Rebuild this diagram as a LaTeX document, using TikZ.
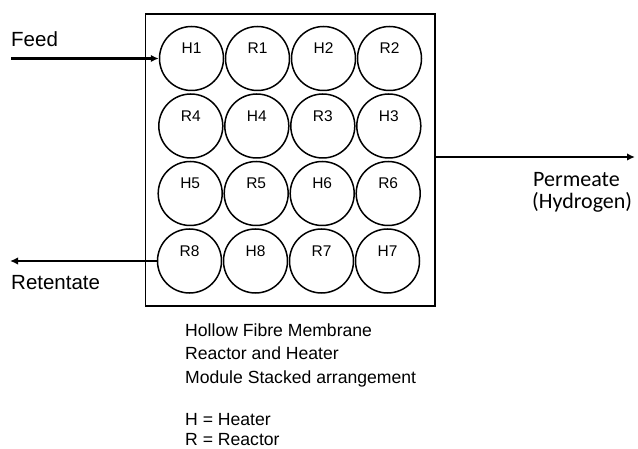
\documentclass[tikz,border=0pt]{standalone}
\usepackage{fontspec}
\setmainfont{Liberation Sans}
\newfontfamily\calib{Carlito}
\usetikzlibrary{arrows.meta}
\tikzset{
  tube/.style={draw, circle, minimum size=64pt, inner sep=0pt, line width=1.5pt},
  tubelbl/.style={font=\fontsize{15.5}{18}\selectfont, inner sep=0pt},
  flow/.style={line width=2.8pt, -{Latex[length=8pt,width=7.5pt]}},
  side/.style={font=\fontsize{20.5}{24}\selectfont, inner sep=0pt, anchor=base west},
  perm/.style={font=\calib\fontsize{22}{26}\selectfont, inner sep=0pt, anchor=base west},
  note/.style={font=\fontsize{17.6}{22}\selectfont, inner sep=0pt, anchor=base west}
}
\begin{document}
\begin{tikzpicture}[x=1pt,y=-1pt]
\useasboundingbox (0,0) rectangle (638,449);
\node[draw, line width=1.5pt, minimum width=289.5pt, minimum height=292pt, inner sep=0pt] (box) at (290.25,160) {};
% row 1
\node[tube, label={[tubelbl,yshift=10pt]center:H1}] (H1) at (191.5,58.5) {};
\node[tube, label={[tubelbl,yshift=10pt]center:R1}] (R1) at (257.5,58.5) {};
\node[tube, label={[tubelbl,yshift=10pt]center:H2}] (H2) at (323.5,58.5) {};
\node[tube, label={[tubelbl,yshift=10pt]center:R2}] (R2) at (389.5,58.5) {};
% row 2
\node[tube, label={[tubelbl,yshift=10pt]center:R4}] (R4) at (190.8,126) {};
\node[tube, label={[tubelbl,yshift=10pt]center:H4}] (H4) at (256.8,126) {};
\node[tube, label={[tubelbl,yshift=10pt]center:R3}] (R3) at (322.8,126) {};
\node[tube, label={[tubelbl,yshift=10pt]center:H3}] (H3) at (388.8,126) {};
% row 3
\node[tube, label={[tubelbl,yshift=10pt]center:H5}] (H5) at (190.2,193.5) {};
\node[tube, label={[tubelbl,yshift=10pt]center:R5}] (R5) at (256.2,193.5) {};
\node[tube, label={[tubelbl,yshift=10pt]center:H6}] (H6) at (322.2,193.5) {};
\node[tube, label={[tubelbl,yshift=10pt]center:R6}] (R6) at (388.2,193.5) {};
% row 4
\node[tube, label={[tubelbl,yshift=10pt]center:R8}] (R8) at (189.5,261) {};
\node[tube, label={[tubelbl,yshift=10pt]center:H8}] (H8) at (255.5,261) {};
\node[tube, label={[tubelbl,yshift=10pt]center:R7}] (R7) at (321.5,261) {};
\node[tube, label={[tubelbl,yshift=10pt]center:H7}] (H7) at (387.5,261) {};
% flows
\coordinate (fs) at (11,58.5);
\coordinate (re) at (10,261);
\coordinate (pe) at (635,157);
\draw[flow] (fs) -- (H1.west);
\draw[flow] (R8.west) -- (re);
\draw[flow] (box.east |- pe) -- (pe);
% labels
\node[side] (feed) at (11,47) {Feed};
\node[side] (ret) at (11,290) {Retentate};
\node[perm] (perm1) at (533,187) {Permeate};
\node[perm] (perm2) at (532,209) {(Hydrogen)};
% notes
\node[note] (n1) at (185,337) {Hollow Fibre Membrane};
\node[note] (n2) at (185,360) {Reactor and Heater};
\node[note] (n3) at (185,383.5) {Module Stacked arrangement};
\node[note] (n4) at (185,425.5) {H = Heater};
\node[note] (n5) at (185,446) {R = Reactor};
\end{tikzpicture}
\end{document}
